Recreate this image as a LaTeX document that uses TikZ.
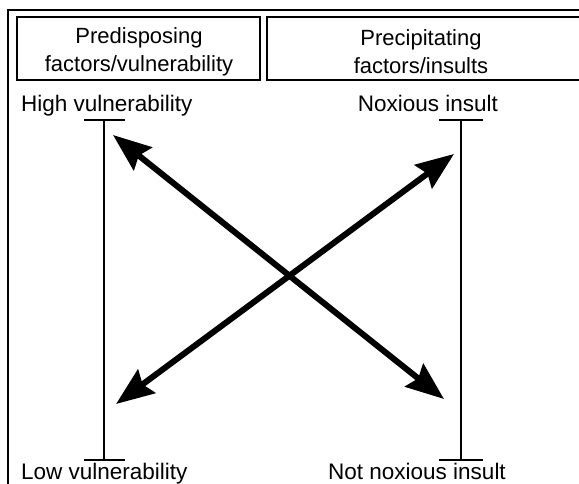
\documentclass[tikz,border=0pt]{standalone}
\usepackage{fontspec}
\setmainfont{Liberation Sans}
\usetikzlibrary{arrows.meta}
\begin{document}
\begin{tikzpicture}[x=1pt,y=-1pt,
  frame/.style={line width=2pt},
  hbox/.style={draw,line width=1.6pt,minimum height=63pt,inner sep=0pt},
  htext/.style={align=center,font=\fontsize{22}{28}\selectfont,inner sep=0pt},
  lbl/.style={font=\fontsize{22.5}{26}\selectfont,inner sep=0pt},
  bar/.style={line width=1.5pt},
  bigarrow/.style={line width=6pt,{Stealth[length=38pt,width=29pt,inset=5pt]}-{Stealth[length=38pt,width=29pt,inset=5pt]}}]
\useasboundingbox (0,0) rectangle (579,484);
% outer frame (cut off at right and bottom)
\draw[frame] (8,490) -- (8,10) -- (590,10);
% header boxes
\node[hbox,minimum width=243pt] (pre) at (138.5,48.5) {};
\node[htext] (pret) at (139,51.5) {Predisposing\\factors/vulnerability};
\node[hbox,minimum width=320pt] (prec) at (427,48.5) {};
\node[htext] (prect) at (421,51.5) {Precipitating\\factors/insults};
% labels
\node[lbl,anchor=base west] (hv) at (21,112) {High vulnerability};
\node[lbl,anchor=base west] (lv) at (21,479) {Low vulnerability};
\node[lbl,anchor=base] (ni) at (428,112) {Noxious insult};
\node[lbl,anchor=base] (nn) at (417,479) {Not noxious insult};
% scales
\coordinate (lt) at (104,120); \coordinate (lb) at (104,460);
\coordinate (rt) at (461,120); \coordinate (rb) at (461,460);
\draw[bar] (lt) -- (lb);
\draw[bar] ([xshift=-20pt]lt) -- ([xshift=21pt]lt);
\draw[bar] ([xshift=-20pt]lb) -- ([xshift=21pt]lb);
\draw[bar] (rt) -- (rb);
\draw[bar] ([xshift=-22pt]rt) -- ([xshift=22pt]rt);
\draw[bar] ([xshift=-22pt]rb) -- ([xshift=22pt]rb);
% arrows
\coordinate (a1) at (113,135); \coordinate (a2) at (444,399);
\coordinate (b1) at (116,404); \coordinate (b2) at (454,154);
\draw[bigarrow] (a1) -- (a2);
\draw[bigarrow] (b1) -- (b2);
\end{tikzpicture}
\end{document}
